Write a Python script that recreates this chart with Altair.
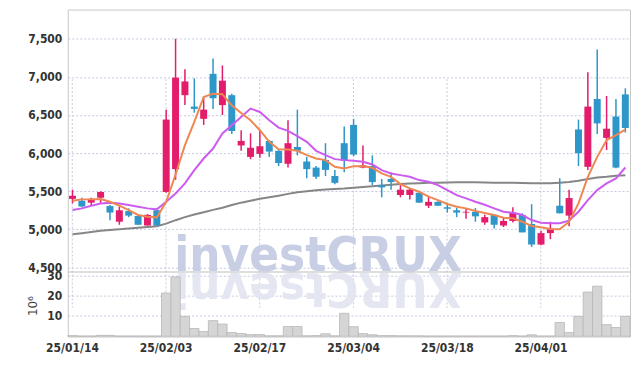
import altair as alt
import pandas as pd

dates = [
    "25/01/14", "25/01/15", "25/01/16", "25/01/17", "25/01/20", "25/01/21", "25/01/22", "25/01/23", "25/01/24", "25/01/31",
    "25/02/03", "25/02/04", "25/02/05", "25/02/06", "25/02/07", "25/02/10", "25/02/11", "25/02/12", "25/02/13", "25/02/14",
    "25/02/17", "25/02/18", "25/02/19", "25/02/20", "25/02/21", "25/02/24", "25/02/25", "25/02/26", "25/02/27", "25/02/28",
    "25/03/04", "25/03/05", "25/03/06", "25/03/07", "25/03/10", "25/03/11", "25/03/12", "25/03/13", "25/03/14", "25/03/17",
    "25/03/18", "25/03/19", "25/03/20", "25/03/21", "25/03/24", "25/03/25", "25/03/26", "25/03/27", "25/03/28", "25/03/31",
    "25/04/01", "25/04/02", "25/04/03", "25/04/04", "25/04/07", "25/04/08", "25/04/09", "25/04/10", "25/04/11", "25/04/14",
]
opens = [5400, 5375, 5350, 5415, 5305, 5100, 5240, 5175, 5050, 5250,
         5490, 5790, 6760, 6610, 6450, 7040, 6630, 6760, 6100, 5950,
         5990, 6160, 6030, 5860, 6080, 5890, 5810, 5910, 5700, 6130,
         6370, 5810, 5830, 5580, 5660, 5450, 5450, 5480, 5310, 5360,
         5290, 5250, 5220, 5230, 5090, 5190, 5050, 5110, 5190, 5070,
         4800, 4950, 5310, 5180, 6310, 5820, 6710, 6200, 6480, 6770]
highs = [5520, 5415, 5415, 5500, 5320, 5300, 5275, 5190, 5200, 5270,
         6570, 7500, 7100, 6980, 6740, 7240, 7150, 6780, 6300, 6260,
         6300, 6170, 6040, 6430, 6570, 5950, 5830, 6130, 5780, 6350,
         6450, 6100, 5970, 5660, 5750, 5580, 5540, 5480, 5430, 5370,
         5350, 5280, 5280, 5280, 5190, 5200, 5160, 5290, 5210, 5330,
         4980, 5100, 5670, 5520, 6440, 7060, 7360, 6750, 6710, 6850]
lows = [5340, 5290, 5310, 5340, 5120, 5060, 5160, 5060, 5050, 5050,
        5480, 5650, 6630, 6530, 6370, 6580, 6500, 6250, 6030, 5920,
        5940, 5950, 5830, 5810, 5970, 5670, 5660, 5700, 5590, 5750,
        5960, 5800, 5580, 5420, 5520, 5420, 5390, 5350, 5280, 5310,
        5220, 5160, 5140, 5100, 5060, 5010, 5030, 5090, 4960, 4770,
        4790, 4870, 5210, 5040, 5830, 5780, 6250, 6040, 5800, 6270]
closes = [5440, 5300, 5400, 5490, 5220, 5250, 5180, 5060, 5190, 5050,
          6440, 6990, 6940, 6580, 6570, 6720, 6950, 6290, 6160, 6070,
          6090, 6020, 5870, 6130, 6030, 5790, 5690, 5780, 5610, 5900,
          5980, 5840, 5620, 5550, 5620, 5520, 5520, 5350, 5360, 5310,
          5270, 5220, 5230, 5170, 5160, 5060, 5110, 5220, 4960, 4800,
          4950, 5010, 5210, 5410, 6000, 6610, 6390, 6320, 5810, 6330]
ma5 = [5375, 5393, 5393, 5397, 5362, 5310, 5253, 5188, 5166, 5157,
       5362, 5720, 6104, 6409, 6736, 6780, 6771, 6627, 6527, 6431,
       6300, 6147, 6051, 6047, 6030, 5973, 5929, 5908, 5820, 5798,
       5829, 5829, 5807, 5733, 5689, 5593, 5537, 5493, 5428, 5384,
       5332, 5297, 5275, 5240, 5215, 5188, 5153, 5144, 5100, 5044,
       5026, 5004, 5000, 5100, 5340, 5689, 5951, 6169, 6235, 6309]
ma20 = [5253, 5275, 5310, 5340, 5349, 5340, 5318, 5297, 5275, 5262,
        5362, 5471, 5602, 5777, 5929, 6060, 6257, 6366, 6475, 6584,
        6540, 6431, 6335, 6291, 6222, 6147, 6030, 5973, 5921, 5908,
        5899, 5886, 5851, 5777, 5733, 5711, 5689, 5646, 5624, 5580,
        5515, 5449, 5406, 5362, 5322, 5275, 5231, 5218, 5188, 5122,
        5087, 5079, 5079, 5113, 5231, 5384, 5515, 5602, 5667, 5811]
ma_long = [4935, 4950, 4965, 4980, 4990, 5000, 5010, 5020, 5030, 5040,
           5075, 5120, 5160, 5195, 5225, 5255, 5284, 5320, 5350, 5375,
           5400, 5420, 5440, 5465, 5485, 5500, 5512, 5522, 5528, 5535,
           5545, 5555, 5565, 5575, 5585, 5595, 5600, 5605, 5610, 5612,
           5615, 5617, 5618, 5618, 5615, 5612, 5610, 5610, 5608, 5606,
           5604, 5606, 5612, 5620, 5637, 5659, 5680, 5689, 5702, 5711]
volume = [0.3, 0.1, 0.1, 0.4, 0.4, 0.1, 0.1, 0.1, 0.1, 0.1,
          21.3, 29.3, 9.8, 3.8, 2.3, 7.7, 6.0, 1.8, 1.3, 0.8,
          0.8, 0.2, 0.2, 4.8, 4.8, 0.2, 0.3, 1.2, 0.2, 11.3,
          4.7, 1.3, 0.7, 0.3, 0.3, 0.2, 0.2, 0.2, 0.1, 0.1,
          0.1, 0.1, 0.1, 0.1, 0.1, 0.1, 0.1, 0.3, 0.1, 0.7,
          0.1, 0.1, 6.8, 1.8, 9.8, 21.8, 24.7, 5.7, 4.3, 9.8]

price_ticks = [4500, 5000, 5500, 6000, 6500, 7000, 7500]
volume_ticks = [10, 20, 30]
date_ticks = ["25/01/14", "25/02/03", "25/02/17", "25/03/04", "25/03/18", "25/04/01"]
watermark = "investCRUX"

UP = "#e31c6b"
DOWN = "#2e96c8"
FONT = "DejaVu Sans Condensed"
LBL = dict(labelFont=FONT, labelFontSize=12, labelFontWeight="bold", labelColor="#333333")

df = pd.DataFrame(dict(date=dates, open=opens, high=highs, low=lows, close=closes,
                       ma5=ma5, ma20=ma20, malong=ma_long, vol=volume))

W, H = 564, 328
xscale = alt.Scale(type="band", domain=dates, paddingInner=0, paddingOuter=0)
x = alt.X("date:O", sort=dates, scale=xscale,
          axis=alt.Axis(values=date_ticks, title=None, labelAngle=0, ticks=False,
                        domain=False, grid=True, bandPosition=0.5, labelPadding=6, **LBL))

pscale = alt.Scale(domain=[4500, 7500], range=[258.7, 29.3], nice=False, zero=False)
paxis = alt.Axis(values=price_ticks, labelExpr="format(datum.value, ',')", title=None,
                 ticks=False, domain=False, grid=True, labelPadding=6, **LBL)

base = alt.Chart(df)
color = alt.condition("datum.close >= datum.open", alt.value(UP), alt.value(DOWN))

wm_df = pd.DataFrame({"t": [watermark], "r": [watermark[::-1]]})
wm = alt.Chart(wm_df).mark_text(font="DejaVu Sans Condensed", fontWeight="bold", fontSize=49,
                                 align="center", baseline="alphabetic", color="#c6cde4",
                                 opacity=0.95).encode(
    x=alt.value(251), y=alt.value(262.5), text="t:N")
wm_ref = alt.Chart(wm_df).mark_text(font="DejaVu Sans Condensed", fontWeight="bold", fontSize=49,
                                     align="center", baseline="alphabetic", angle=180,
                                     color="#e3e6f1", opacity=0.95).encode(
    x=alt.value(251), y=alt.value(264.5), text="r:N")

wick = base.mark_rule(strokeWidth=1.5).encode(
    x=x, y=alt.Y("low:Q", scale=pscale, axis=paxis), y2="high:Q", color=color)
body = base.mark_bar(size=7).encode(
    x=x, y=alt.Y("open:Q", scale=pscale, axis=paxis), y2="close:Q", color=color)
l_long = base.mark_line(color="#868686", strokeWidth=2).encode(
    x=x, y=alt.Y("malong:Q", scale=pscale, axis=paxis))
l20 = base.mark_line(color="#cc5cf0", strokeWidth=2).encode(
    x=x, y=alt.Y("ma20:Q", scale=pscale, axis=paxis))
l5 = base.mark_line(color="#ef8752", strokeWidth=2).encode(
    x=x, y=alt.Y("ma5:Q", scale=pscale, axis=paxis))

price = alt.layer(wm, wm_ref, l_long, wick, body, l20, l5)

vscale = alt.Scale(domain=[0, 30], range=[327.7, 266.7], nice=False, zero=True)
vaxis = alt.Axis(values=volume_ticks, orient="left", title="10⁶", ticks=False, domain=False,
                 grid=True, labelPadding=6, titleX=-35, titleY=297, titleAngle=-90,
                 titleBaseline="middle", titleAlign="center", titleFont="DejaVu Sans",
                 titleFontSize=12, titleFontWeight="normal", titleColor="#444444", **LBL)
vol = base.mark_bar(color="#d5d5d5", stroke="#b8b8b8", strokeWidth=0.8).encode(
    x=x, y=alt.Y("vol:Q", scale=vscale, axis=vaxis))
sep = alt.Chart(wm_df).mark_rule(color="#bdbdbd", strokeWidth=1.2).encode(y=alt.value(263.3))

chart = alt.layer(price, alt.layer(vol, sep)).resolve_scale(y="independent").properties(
    width=W, height=H,
    autosize=alt.AutoSizeParams(type="none"),
    padding={"left": 60, "top": 1, "right": 4, "bottom": 28},
).configure_view(stroke="#c8c8c8", strokeWidth=1).configure_axis(
    gridColor="#c6c9dd", gridDash=[2, 2], gridWidth=1,
)

chart.save("out.html", embed_options={"renderer": "svg", "actions": False})
